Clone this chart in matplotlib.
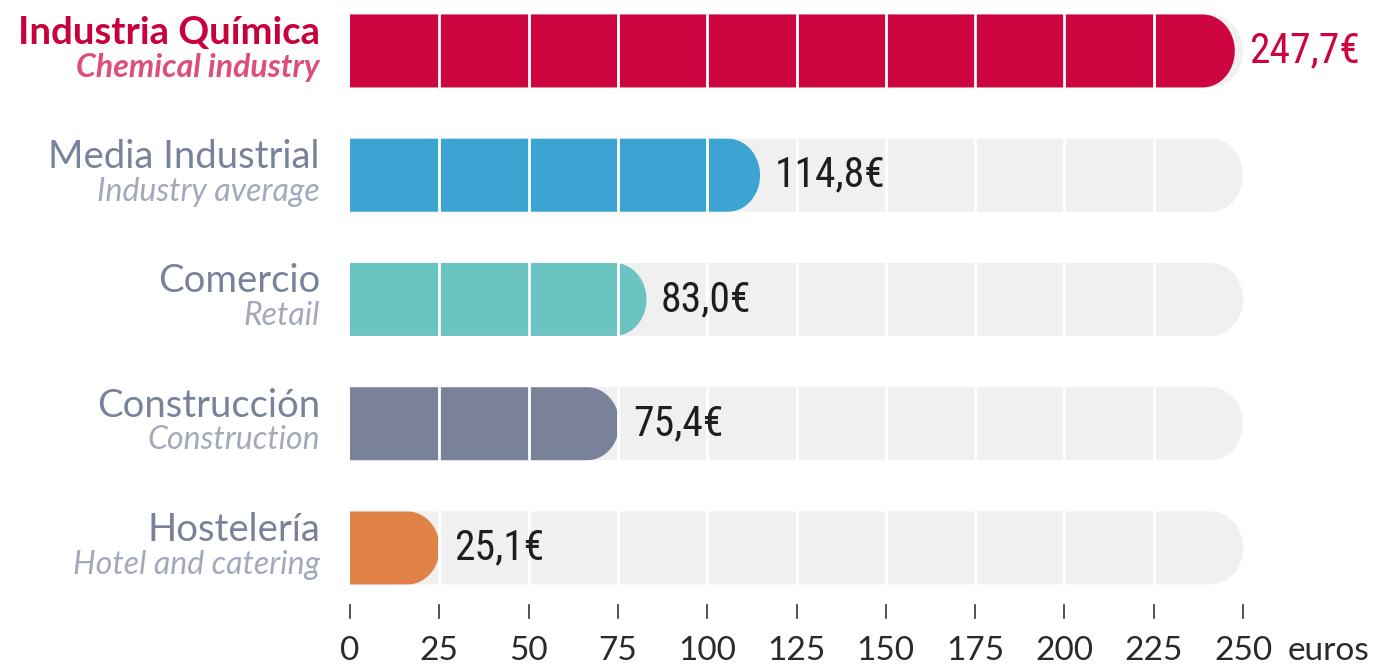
import numpy as np
import matplotlib.pyplot as plt
from matplotlib.path import Path
from matplotlib.patches import PathPatch

# datos
categorias = ['Industria Química', 'Media Industrial', 'Comercio', 'Construcción', 'Hostelería']
subtitulos = ['Chemical industry', 'Industry average', 'Retail', 'Construction', 'Hotel and catering']
valores = [247.7, 114.8, 83.0, 75.4, 25.1]
etiquetas = ['247,7€', '114,8€', '83,0€', '75,4€', '25,1€']
colores = ['#CC0440', '#3BA4D3', '#6CC4C2', '#7A8299', '#E08248']
ticks = [0, 25, 50, 75, 100, 125, 150, 175, 200, 225, 250]
maximo = 250

color_titulo = ['#C8003C', '#7A829B', '#7A829B', '#7A829B', '#7A829B']
color_sub = ['#DE4F78', '#A3A9BB', '#A3A9BB', '#A3A9BB', '#A3A9BB']

fuente_valor = ['Roboto Condensed', 'Liberation Sans Narrow', 'DejaVu Sans']


def barra_redondeada(ax, y, largo, alto, color, rx=9.0, z=1):
    # rectangulo con extremo derecho redondeado (cuarto de elipse arriba y abajo)
    ry = alto / 2
    rx = min(rx, largo)
    t = np.linspace(-np.pi / 2, np.pi / 2, 40)
    xs = [0, largo - rx] + list(largo - rx + rx * np.cos(t)) + [largo - rx, 0]
    ys = [y - ry, y - ry] + list(y + ry * np.sin(t)) + [y + ry, y + ry]
    verts = list(zip(xs, ys)) + [(0, y - ry)]
    codes = [Path.MOVETO] + [Path.LINETO] * (len(verts) - 2) + [Path.CLOSEPOLY]
    ax.add_patch(PathPatch(Path(verts, codes), facecolor=color, edgecolor='none', zorder=z))


fig = plt.figure(figsize=(13.82, 6.67), dpi=100)
ax = fig.add_axes([350 / 1382, 0, 893 / 1382, 1])
ax.set_xlim(0, maximo)
ax.set_ylim(4.958, -0.41)
ax.axis('off')

alto = 0.5875
for i, v in enumerate(valores):
    barra_redondeada(ax, i, maximo, alto, '#F0F0F0', z=1)
    barra_redondeada(ax, i, v, alto, colores[i], z=2)
    ax.text(v + 4.0, i, etiquetas[i], ha='left', va='center', fontsize=30,
            family=fuente_valor, fontstretch='condensed',
            color='#CC0440' if i == 0 else '#1E1E1E', zorder=4, clip_on=False)
    ax.text(-8.4, i - 0.145, categorias[i], ha='right', va='center', fontsize=27.5,
            family='Lato', fontweight='bold' if i == 0 else 'normal',
            color=color_titulo[i], clip_on=False)
    ax.text(-8.4, i + 0.135, subtitulos[i], ha='right', va='center', fontsize=23,
            family='Lato', style='italic', fontweight='bold' if i == 0 else 'normal',
            color=color_sub[i], clip_on=False)

# lineas blancas de la cuadricula sobre las barras
for t in ticks[1:-1]:
    ax.plot([t, t], [-alto / 2, 4 + alto / 2], color='white', lw=2, zorder=3)

# eje inferior
for t in ticks:
    ax.plot([t, t], [4.46, 4.565], color='#333333', lw=1.2, clip_on=False)
    ax.text(t, 4.83, str(t), ha='center', va='center', fontsize=24,
            family='Lato', color='#2A2A2A', clip_on=False)
ax.text(maximo + 12.5, 4.83, 'euros', ha='left', va='center', fontsize=24,
        family='Lato', color='#2A2A2A', clip_on=False)

fig.savefig('out.png', dpi=100)
